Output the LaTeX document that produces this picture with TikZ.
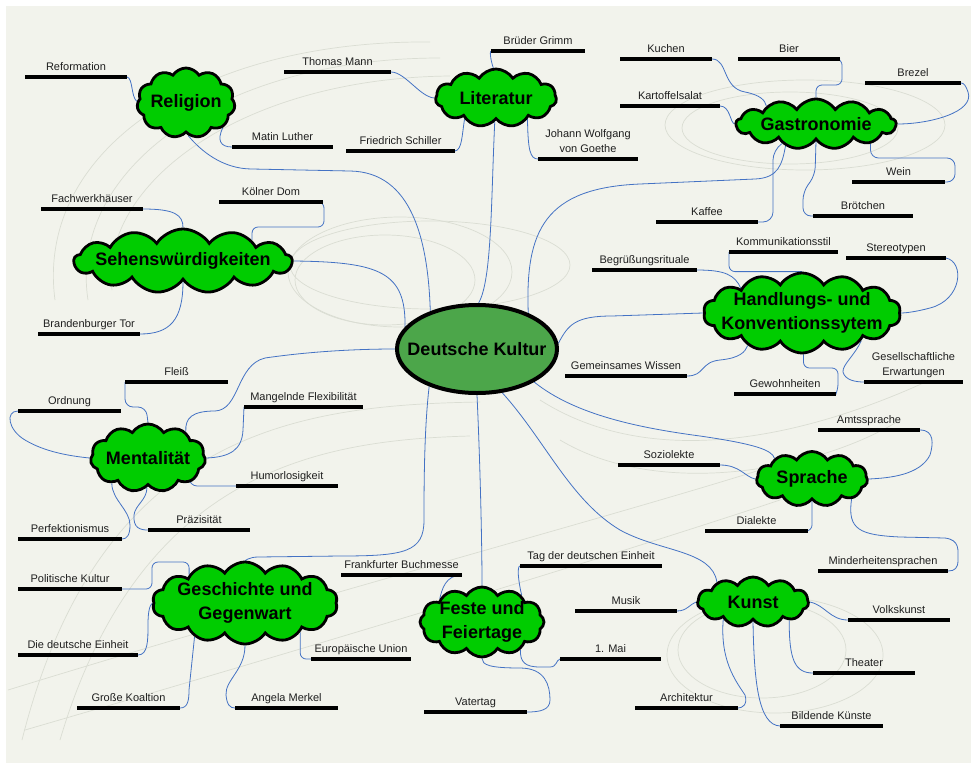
\documentclass[tikz,border=0pt]{standalone}
\usepackage{fontspec}
\setmainfont{Liberation Sans}
\usetikzlibrary{shapes.symbols,shapes.geometric,calc}

\definecolor{paper}{HTML}{F2F3EC}
\definecolor{cloudgreen}{HTML}{00CC00}
\definecolor{hubgreen}{HTML}{4CA64A}
\definecolor{linkblue}{HTML}{4472C4}
\definecolor{ghost}{HTML}{DADDD3}

\pgfdeclarelayer{back}
\pgfdeclarelayer{links}
\pgfsetlayers{back,links,main}

\tikzset{
  topic/.style={shape=cloud, draw=black, line width=2.8pt, fill=cloudgreen,
    cloud puffs=11, cloud puff arc=115, cloud ignores aspect=true, inner sep=0pt},
  topictext/.style={align=center, inner sep=0pt,
    font=\bfseries\fontsize{18}{24}\selectfont},
  hub/.style={ellipse, draw=black, line width=4pt, fill=hubgreen,
    minimum width=160, minimum height=88, inner sep=0pt},
  conn/.style={draw=linkblue, line width=0.8pt},
  ghostarc/.style={draw=ghost, line width=0.7pt},
  leafline/.style={line width=3.6pt, black},
  leaftext/.style={anchor=base, inner sep=0pt, text=black!88,
    font=\fontsize{11}{15}\selectfont},
  leaftwotext/.style={anchor=south, inner sep=0pt, text depth=0pt, align=center,
    text=black!88, font=\fontsize{11}{15}\selectfont},
}

% a leaf: name, left x, right x, y of the bar, caption
\newcommand\leaf[5]{%
  \coordinate (#1-w) at (#2,#4);
  \coordinate (#1-e) at (#3,#4);
  \draw[leafline] (#1-w) -- (#1-e);
  \node[leaftext] (#1) at ($(#1-w)!0.5!(#1-e)+(0,-6.5)$) {#5};}
\newcommand\leaftwo[5]{%
  \coordinate (#1-w) at (#2,#4);
  \coordinate (#1-e) at (#3,#4);
  \draw[leafline] (#1-w) -- (#1-e);
  \node[leaftwotext] (#1) at ($(#1-w)!0.5!(#1-e)+(0,-6.5)$) {#5};}

\begin{document}
\begin{tikzpicture}[x=1pt,y=-1pt]
\useasboundingbox (0,0) rectangle (971,763);

\begin{pgfonlayer}{back}
  \fill[paper] (6,6) rectangle (971,763);
  % faint sweeping guide curves
  \draw[ghostarc] (55,300) .. controls (35,150) and (200,40) .. (430,42);
  \draw[ghostarc] (88,300) .. controls (68,170) and (220,58) .. (440,58);
  \draw[ghostarc] (112,290) .. controls (98,185) and (240,78) .. (450,76);
  \draw[ghostarc] (805,125) ellipse (140pt and 45pt);
  \draw[ghostarc] (790,128) ellipse (108pt and 36pt);
  \draw[ghostarc] (400,272) ellipse (112pt and 55pt);
  \draw[ghostarc] (430,265) ellipse (140pt and 44pt);
  \draw[ghostarc] (385,280) ellipse (90pt and 45pt);
  \draw[ghostarc] (775,655) ellipse (108pt and 58pt);
  \draw[ghostarc] (762,650) ellipse (84pt and 48pt);
  \draw[ghostarc] (22,740) .. controls (100,430) and (300,405) .. (480,402);
  \draw[ghostarc] (60,740) .. controls (140,470) and (320,440) .. (470,436);
  \draw[ghostarc] (8,690) .. controls (300,600) and (600,520) .. (760,470);
  \draw[ghostarc] (25,730) .. controls (300,650) and (600,560) .. (780,500);
  \draw[ghostarc] (540,400) .. controls (650,470) and (800,440) .. (930,380);
  \draw[ghostarc] (560,440) .. controls (660,500) and (820,470) .. (900,420);
\end{pgfonlayer}

% centre
\node[hub] (dk) at (477,349) {};
\node[topictext] (dk-t) at (dk) {Deutsche Kultur};

% topics
\node[topic, minimum width=98, minimum height=70] (rel) at (186,103) {};
\node[topictext] (rel-t) at (rel) {Religion};
\node[topic, minimum width=121, minimum height=58] (lit) at (496,98) {};
\node[topictext] (lit-t) at (lit) {Literatur};
\node[topic, cloud puffs=13, minimum width=160, minimum height=50] (gas) at (816,124) {};
\node[topictext] (gas-t) at (gas) {Gastronomie};
\node[topic, cloud puffs=13, minimum width=218, minimum height=64] (seh) at (183,261) {};
\node[topictext] (seh-t) at (seh) {Sehenswürdigkeiten};
\node[topic, cloud puffs=14, minimum width=197, minimum height=80] (hand) at (802,313) {};
\node[topictext] (hand-t) at (hand) {Handlungs- und\\Konventionssytem};
\node[topic, minimum width=115, minimum height=68] (men) at (148,458) {};
\node[topictext] (men-t) at (men) {Mentalität};
\node[topic, minimum width=111, minimum height=55] (spr) at (812,479) {};
\node[topictext] (spr-t) at (spr) {Sprache};
\node[topic, cloud puffs=14, minimum width=185, minimum height=82] (ges) at (245,603) {};
\node[topictext] (ges-t) at (ges) {Geschichte und\\Gegenwart};
\node[topic, cloud puffs=12, minimum width=124, minimum height=70] (fes) at (482,622) {};
\node[topictext] (fes-t) at (fes) {Feste und\\Feiertage};
\node[topic, minimum width=111, minimum height=50] (kun) at (753,602) {};
\node[topictext] (kun-t) at (kun) {Kunst};

% leaves
\leaf{refo}{25}{127}{77}{Reformation}
\leaf{mann}{284}{391}{72}{Thomas Mann}
\leaf{grimm}{491}{585}{51}{Brüder Grimm}
\leaf{kuchen}{620}{712}{59}{Kuchen}
\leaf{bier}{738}{840}{59}{Bier}
\leaf{brezel}{865}{961}{83}{Brezel}
\leaf{kart}{620}{720}{106}{Kartoffelsalat}
\leaf{luther}{232}{333}{147}{Matin Luther}
\leaf{schiller}{346}{455}{151}{Friedrich Schiller}
\leaftwo{goethe}{538}{638}{159}{Johann Wolfgang\\von Goethe}
\leaf{wein}{852}{945}{182}{Wein}
\leaf{fach}{41}{143}{209}{Fachwerkhäuser}
\leaf{koeln}{219}{323}{202}{Kölner Dom}
\leaf{kaffee}{656}{758}{222}{Kaffee}
\leaf{broet}{813}{913}{216}{Brötchen}
\leaf{begr}{592}{697}{270}{Begrüßungsrituale}
\leaf{komm}{729}{838}{252}{Kommunikationsstil}
\leaf{stereo}{846}{946}{258}{Stereotypen}
\leaf{brand}{38}{140}{334}{Brandenburger Tor}
\leaf{gem}{565}{687}{376}{Gemeinsames Wissen}
\leaftwo{gesell}{864}{963}{382}{Gesellschaftliche\\Erwartungen}
\leaf{gew}{734}{836}{394}{Gewohnheiten}
\leaf{fleiss}{125}{228}{382}{Fleiß}
\leaf{ordn}{18}{121}{411}{Ordnung}
\leaf{mang}{244}{363}{407}{Mangelnde Flexibilität}
\leaf{amts}{818}{920}{430}{Amtssprache}
\leaf{sozio}{618}{720}{465}{Soziolekte}
\leaf{humor}{236}{338}{486}{Humorlosigkeit}
\leaf{dial}{705}{808}{531}{Dialekte}
\leaf{perf}{18}{122}{539}{Perfektionismus}
\leaf{praez}{148}{250}{530}{Präzisität}
\leaf{tag}{520}{662}{566}{Tag der deutschen Einheit}
\leaf{mind}{818}{948}{571}{Minderheitensprachen}
\leaf{frank}{341}{462}{575}{Frankfurter Buchmesse}
\leaf{pol}{18}{122}{589}{Politische Kultur}
\leaf{musik}{575}{677}{611}{Musik}
\leaf{volks}{848}{950}{620}{Volkskunst}
\leaf{einh}{18}{138}{655}{Die deutsche Einheit}
\leaf{eu}{311}{411}{659}{Europäische Union}
\leaf{mai}{560}{661}{659}{1. Mai}
\leaf{theat}{813}{915}{673}{Theater}
\leaf{koal}{77}{180}{708}{Große Koaltion}
\leaf{merkel}{235}{338}{708}{Angela Merkel}
\leaf{arch}{635}{738}{708}{Architektur}
\leaf{vater}{424}{527}{712}{Vatertag}
\leaf{bild}{780}{883}{726}{Bildende Künste}

\begin{pgfonlayer}{links}
  % centre to topics
  \draw[conn] (rel.-86) .. controls (200,150) and (222,169) .. (252,169) -- (350,171)
              .. controls (412,172) and (428,240) .. (dk.141);
  \draw[conn] (lit.-93) .. controls (491,200) and (492,280) .. (dk.88);
  \draw[conn] (dk.35) .. controls (525,230) and (545,188) .. (640,184) -- (755,179)
              .. controls (778,178) and (782,165) .. (gas.-144);
  \draw[conn] (seh.0) .. controls (380,262) and (406,272) .. (dk.163);
  \draw[conn] (dk.4) .. controls (568,325) and (575,316) .. (612,316) -- (hand.180);
  \draw[conn] (dk.330) .. controls (575,415) and (640,428) .. (700,436)
              .. controls (755,444) and (772,450) .. (spr.151);
  \draw[conn] (dk.300) .. controls (545,440) and (570,500) .. (620,530)
              .. controls (660,552) and (712,550) .. (kun.151);
  \draw[conn] (dk.270) .. controls (480,460) and (482,540) .. (fes.90);
  \draw[conn] (dk.218) .. controls (424,430) and (424,490) .. (424,520)
              .. controls (424,552) and (405,556) .. (340,556) -- (258,557)
              .. controls (249,557) and (245,561) .. (ges.90);
  \draw[conn] (men.35) .. controls (185,418) and (192,411) .. (215,411)
              .. controls (240,410) and (236,365) .. (265,358)
              .. controls (320,350) and (370,349) .. (dk.180);

  % Religion
  \draw[conn] (refo-e) .. controls (133,78) and (131,97) .. (rel.178);
  \draw[conn] (rel.-34) .. controls (217,140) and (220,147) .. (luther-w);
  % Literatur
  \draw[conn] (mann-e) .. controls (405,72) and (420,97) .. (lit.180);
  \draw[conn] (grimm-w) .. controls (489,52) and (492,65) .. (lit.95);
  \draw[conn] (schiller-e) .. controls (462,150) and (462,135) .. (lit.214);
  \draw[conn] (lit.-34) .. controls (528,150) and (530,159) .. (goethe-w);
  % Gastronomie
  \draw[conn] (kuchen-e) .. controls (728,59) and (722,88) .. (745,92)
              .. controls (760,95) and (765,100) .. (gas.160);
  \draw[conn, rounded corners=6pt] (gas.90) |- (842,85) |- (bier-e);
  \draw[conn] (gas.0) .. controls (930,124) and (975,112) .. (968,92)
              .. controls (966,86) and (964,83) .. (brezel-e);
  \draw[conn] (kart-e) .. controls (730,106) and (730,122) .. (gas.180);
  \draw[conn, rounded corners=8pt] (gas.-20) |- (955,158) |- (wein-e);
  \draw[conn, rounded corners=10pt] (kaffee-e) -| (773,150) -- (gas.210);
  \draw[conn, rounded corners=8pt] (gas.-90) -- (815,175) -- (803,192) |- (broet-w);
  % Sehenswuerdigkeiten
  \draw[conn] (fach-e) .. controls (175,209) and (183,215) .. (seh.90);
  \draw[conn, rounded corners=6pt] (koeln-e) -| (324,227) -| (seh.17);
  \draw[conn] (brand-e) .. controls (170,334) and (183,320) .. (seh.-90);
  % Handlungs- und Konventionssytem
  \draw[conn] (begr-e) .. controls (725,270) and (735,275) .. (hand.158);
  \draw[conn, rounded corners=6pt] (komm-w) |- (hand.90);
  \draw[conn] (stereo-e) .. controls (965,262) and (962,300) .. (930,308)
              .. controls (915,312) and (905,313) .. (hand.0);
  \draw[conn] (gem-e) .. controls (705,376) and (700,362) .. (720,360)
              .. controls (740,358) and (745,352) .. (hand.-149);
  \draw[conn, rounded corners=6pt] (hand.-88) |- (838,368) -- (838,390) -- (gew-e);
  \draw[conn] (hand.-25) .. controls (855,355) and (842,365) .. (843,372)
              .. controls (845,380) and (855,382) .. (gesell-w);
  % Mentalitaet
  \draw[conn, rounded corners=8pt] (fleiss-w) |- (146,407) -- (men.90);
  \draw[conn] (ordn-w) .. controls (5,411) and (8,430) .. (25,440)
              .. controls (45,452) and (70,456) .. (men.180);
  \draw[conn] (men.-145) .. controls (112,500) and (130,510) .. (130,525)
              .. controls (130,535) and (127,539) .. (perf-e);
  \draw[conn] (men.-92) .. controls (147,500) and (135,505) .. (134,515)
              .. controls (133,528) and (140,530) .. (praez-w);
  \draw[conn, rounded corners=8pt] (men.-31) |- (humor-w);
  \draw[conn] (men.0) .. controls (230,457) and (242,450) .. (243,430) -- (mang-w);
  % Sprache
  \draw[conn] (amts-e) .. controls (935,430) and (933,445) .. (930,455)
              .. controls (920,475) and (890,478) .. (spr.0);
  \draw[conn] (sozio-e) .. controls (740,465) and (745,477) .. (spr.180);
  \draw[conn, rounded corners=6pt] (spr.-90) |- (dial-e);
  \draw[conn] (spr.-27) .. controls (847,530) and (860,535) .. (900,537) -- (945,538)
              .. controls (960,540) and (958,550) .. (958,560)
              .. controls (958,568) and (955,571) .. (mind-e);
  % Kunst
  \draw[conn] (musik-e) .. controls (687,611) and (690,604) .. (kun.180);
  \draw[conn] (kun.0) .. controls (825,605) and (830,620) .. (volks-w);
  \draw[conn] (kun.-27) .. controls (789,660) and (795,673) .. (theat-w);
  \draw[conn] (kun.-90) .. controls (754,680) and (758,725) .. (bild-w);
  \draw[conn] (kun.-150) .. controls (720,660) and (735,680) .. (745,695)
              .. controls (748,705) and (742,708) .. (arch-e);
  % Feste und Feiertage
  \draw[conn] (frank-e) .. controls (445,575) and (442,590) .. (fes.151);
  \draw[conn] (tag-w) .. controls (517,566) and (518,580) .. (fes.34);
  \draw[conn] (fes.-36) .. controls (520,662) and (525,667) .. (540,667) -- (550,667)
              .. controls (557,667) and (556,660) .. (mai-w);
  \draw[conn] (fes.-90) .. controls (482,665) and (490,668) .. (520,668)
              .. controls (545,668) and (550,685) .. (550,700)
              .. controls (550,710) and (540,712) .. (vater-e);
  % Geschichte und Gegenwart
  \draw[conn, rounded corners=6pt] (pol-e) -| (152,562) -| (ges.153);
  \draw[conn] (einh-e) .. controls (148,655) and (148,640) .. (148,625)
              .. controls (148,610) and (150,605) .. (ges.180);
  \draw[conn] (koal-e) .. controls (188,708) and (189,700) .. (189,690) -- (ges.-146);
  \draw[conn] (ges.-90) .. controls (245,670) and (225,680) .. (226,695)
              .. controls (227,705) and (230,708) .. (merkel-w);
  \draw[conn, rounded corners=6pt] (ges.-28) |- (eu-w);
\end{pgfonlayer}
\end{tikzpicture}
\end{document}
